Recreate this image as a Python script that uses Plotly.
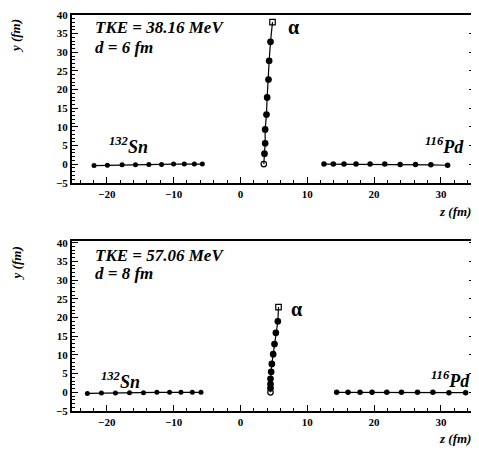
import plotly.graph_objects as go
from plotly.subplots import make_subplots

# ---------------- data ----------------
# Panel 1: TKE = 38.16 MeV, d = 6 fm
sn1_z = [-21.9, -19.9, -17.7, -15.7, -13.7, -11.8, -10.0, -8.4, -6.9, -5.7]
sn1_y = [-0.4, -0.3, -0.2, -0.2, -0.1, -0.1, 0.0, 0.0, 0.0, 0.0]
pd1_z = [12.5, 13.9, 15.5, 17.3, 19.4, 21.6, 23.9, 26.2, 28.5, 31.0]
pd1_y = [0.0, 0.0, 0.0, 0.0, 0.0, 0.0, -0.1, -0.1, -0.2, -0.3]
al1_z = [3.5, 3.6, 3.7, 3.7, 3.9, 4.0, 4.2, 4.3, 4.5, 4.8]
al1_y = [0.0, 2.8, 5.6, 9.3, 13.3, 17.9, 22.7, 27.7, 32.8, 38.1]

# Panel 2: TKE = 57.06 MeV, d = 8 fm
sn2_z = [-22.9, -20.8, -18.7, -16.6, -14.5, -12.5, -10.6, -8.9, -7.2, -5.9]
sn2_y = [-0.3, -0.2, -0.2, -0.1, -0.1, 0.0, 0.0, 0.0, 0.0, 0.0]
pd2_z = [14.4, 16.1, 17.9, 19.7, 21.9, 24.1, 26.5, 28.8, 31.2, 33.7]
pd2_y = [0.0, 0.0, 0.0, 0.0, 0.0, 0.0, 0.0, 0.0, -0.1, -0.1]
al2_z = [4.5, 4.5, 4.5, 4.5, 4.6, 4.7, 4.9, 5.1, 5.3, 5.6, 5.7]
al2_y = [0.0, 1.1, 2.2, 3.6, 5.5, 7.6, 10.2, 12.9, 15.9, 19.0, 22.8]

panel_titles = ["TKE = 38.16 MeV", "TKE = 57.06 MeV"]
panel_d = ["d = 6 fm", "d = 8 fm"]
x_ticks = [-20, -10, 0, 10, 20, 30]
y_ticks = [-5, 0, 5, 10, 15, 20, 25, 30, 35, 40]

FONT = "Liberation Serif"

fig = make_subplots(rows=2, cols=1, vertical_spacing=0.1)

def add_panel(row, snz, sny, pdz, pdy, alz, aly):
    line = dict(color="black", width=1.2)
    fig.add_trace(go.Scatter(x=snz, y=sny, mode="lines+markers", line=line,
                             marker=dict(color="black", size=5, symbol="circle"),
                             showlegend=False), row=row, col=1)
    fig.add_trace(go.Scatter(x=pdz, y=pdy, mode="lines+markers", line=line,
                             marker=dict(color="black", size=5.5, symbol="circle"),
                             showlegend=False), row=row, col=1)
    n = len(alz)
    symbols = ["circle-open"] + ["circle"] * (n - 2) + ["square-open"]
    fig.add_trace(go.Scatter(x=alz, y=aly, mode="lines+markers", line=line,
                             marker=dict(color="black", size=5.5, symbol=symbols,
                                         line=dict(color="black", width=1.2)),
                             showlegend=False), row=row, col=1)

add_panel(1, sn1_z, sn1_y, pd1_z, pd1_y, al1_z, al1_y)
add_panel(2, sn2_z, sn2_y, pd2_z, pd2_y, al2_z, al2_y)

tickfont = dict(family=FONT, size=11, color="black", weight="bold")
axis_common = dict(showgrid=False, zeroline=False, showline=True, linecolor="black",
                   linewidth=2, ticks="inside", tickcolor="black", tickfont=tickfont)

for ax in ["xaxis", "xaxis2"]:
    fig.update_layout({ax: dict(axis_common, range=[-25.2, 35.1], tickvals=x_ticks,
                                ticklen=6, tickwidth=1, mirror=True,
                                minor=dict(dtick=2, ticklen=3, ticks="inside",
                                           tickcolor="black", tickwidth=1))})
fig.update_layout(yaxis=dict(axis_common, range=[-5, 40], tickvals=y_ticks, ticklen=6,
                             tickwidth=1, mirror="ticks", domain=[0.5764, 1.0],
                             minor=dict(dtick=1, ticklen=3, ticks="inside",
                                        tickcolor="black", tickwidth=1)),
                  yaxis2=dict(axis_common, range=[-5, 40.4], tickvals=y_ticks, ticklen=6,
                              tickwidth=1, mirror="ticks", domain=[0.0, 0.4286],
                              minor=dict(dtick=1, ticklen=3, ticks="inside",
                                         tickcolor="black", tickwidth=1)))

ann = []
tfont = dict(family=FONT, size=17, color="black", weight="bold", style="italic")
lab_font = dict(family=FONT, size=18, color="black", weight="bold", style="italic")
# In-panel labels
for i, (xr, yr) in enumerate([("x", "y"), ("x2", "y2")]):
    ty = [36.6, 36.7][i]
    dy = [31.2, 31.8][i]
    ann.append(dict(x=-22.1, y=ty, xref=xr, yref=yr, text=panel_titles[i],
                    xanchor="left", yanchor="middle", showarrow=False, font=tfont))
    ann.append(dict(x=-22.1, y=dy, xref=xr, yref=yr, text=panel_d[i],
                    xanchor="left", yanchor="middle", showarrow=False, font=tfont))
    ax_ = [8.0, 8.4][i]
    ay_ = [36.9, 22.4][i]
    ann.append(dict(x=ax_, y=ay_, xref=xr, yref=yr, text="α", xanchor="center",
                    yanchor="middle", showarrow=False,
                    font=dict(family=FONT, size=20, color="black", weight="bold")))
    snx = [-20.0, -21.1][i]
    sny_ = [5.0, 3.2][i]
    ann.append(dict(x=snx, y=sny_, xref=xr, yref=yr, text="<sup>132</sup>Sn",
                    xanchor="left", yanchor="middle", showarrow=False, font=lab_font))
    pdx = [33.8, 34.7][i]
    pdy_ = [5.1, 3.4][i]
    ann.append(dict(x=pdx, y=pdy_, xref=xr, yref=yr, text="<sup>116</sup>Pd",
                    xanchor="right", yanchor="middle", showarrow=False, font=lab_font))

# Axis titles (paper coords; plot area in window pixels: x 72..477, y 12..411)
def px_x(p):
    return (p - 72) / 405.0

def px_y(p):
    return (411 - p) / 399.0

axfont = dict(family=FONT, size=13, color="black", weight="bold", style="italic")
for cy in [33, 262]:
    ann.append(dict(x=px_x(16), y=px_y(cy), xref="paper", yref="paper", text="y (fm)",
                    textangle=-90, xanchor="center", yanchor="middle",
                    showarrow=False, font=axfont))
for cy in [210, 439]:
    ann.append(dict(x=px_x(475), y=px_y(cy), xref="paper", yref="paper", text="z (fm)",
                    xanchor="right", yanchor="middle", showarrow=False, font=axfont))

# The page body has an 8px margin, so the figure is offset by 8px.
fig.update_layout(annotations=ann, width=471, height=445,
                  margin=dict(l=64, r=2, t=4, b=42),
                  paper_bgcolor="white", plot_bgcolor="white")

fig.write_html("out.html")
